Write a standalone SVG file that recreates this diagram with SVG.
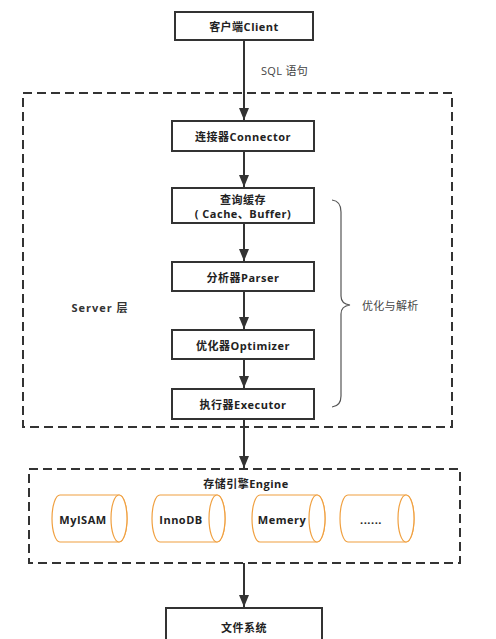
<svg xmlns="http://www.w3.org/2000/svg" width="496" height="639" viewBox="0 0 496 639">
<style>
.box{fill:#fff;stroke:#333;stroke-width:2}
.dash{fill:none;stroke:#333;stroke-width:2;stroke-dasharray:9 5}
.t{font-family:"Open Sans","Noto Sans CJK SC",sans-serif;font-size:11px;font-weight:bold;fill:#222;text-anchor:middle;dominant-baseline:central;letter-spacing:0.5px}
.n{font-family:"Open Sans","Noto Sans CJK SC",sans-serif;font-size:11px;fill:#444;dominant-baseline:central;letter-spacing:0.3px}
.cyl{fill:#fff;stroke:#F0A040;stroke-width:1.2}
.line{stroke:#333;stroke-width:2;fill:none}
</style>
<g id="server-layer">
<rect class="dash" x="23" y="93" width="429" height="334"/>
<text class="n" x="100" y="307" style="font-weight:bold;fill:#333;letter-spacing:1px" text-anchor="middle">Server 层</text>
</g>
<g id="engine-layer">
<rect class="dash" x="29" y="469" width="431" height="94"/>
<text class="t" x="246" y="483">存储引擎Engine</text>
</g>
<g id="connectors">
<line class="line" x1="244" y1="40" x2="244" y2="120"/>
<path d="M239,108 L249,108 L244,120 Z" fill="#333"/>
<line class="line" x1="244" y1="151" x2="244" y2="187"/>
<path d="M239,175 L249,175 L244,187 Z" fill="#333"/>
<line class="line" x1="244" y1="223" x2="244" y2="261"/>
<path d="M239,249 L249,249 L244,261 Z" fill="#333"/>
<line class="line" x1="244" y1="291" x2="244" y2="329"/>
<path d="M239,317 L249,317 L244,329 Z" fill="#333"/>
<line class="line" x1="244" y1="359" x2="244" y2="388"/>
<path d="M239,376 L249,376 L244,388 Z" fill="#333"/>
<line class="line" x1="244" y1="419" x2="244" y2="468"/>
<path d="M239,456 L249,456 L244,468 Z" fill="#333"/>
<line class="line" x1="244" y1="563" x2="244" y2="607"/>
<path d="M239,595 L249,595 L244,607 Z" fill="#333"/>
<text class="n" x="261" y="70">SQL 语句</text>
<path d="M332,200 Q341,201 341,212 L341,296 Q341,304 350,305 Q341,306 341,314 L341,396 Q341,406 332,407" fill="none" stroke="#555" stroke-width="1.2"/>
<text class="n" x="362" y="305">优化与解析</text>
</g>
<g id="client">
<rect class="box" x="175" y="12" width="138" height="28"/>
<text class="t" x="244" y="26">客户端Client</text>
</g>
<g id="connector">
<rect class="box" x="172" y="121" width="142" height="30"/>
<text class="t" x="243" y="136">连接器Connector</text>
</g>
<g id="cache">
<rect class="box" x="172" y="188" width="142" height="35"/>
<text class="t" x="243" y="199">查询缓存</text>
<text class="t" x="243" y="213">( Cache、Buffer)</text>
</g>
<g id="parser">
<rect class="box" x="172" y="262" width="142" height="29"/>
<text class="t" x="243" y="277">分析器Parser</text>
</g>
<g id="optimizer">
<rect class="box" x="172" y="330" width="142" height="29"/>
<text class="t" x="243" y="345">优化器Optimizer</text>
</g>
<g id="executor">
<rect class="box" x="172" y="389" width="142" height="30"/>
<text class="t" x="243" y="404">执行器Executor</text>
</g>
<g id="myisam">
<path class="cyl" d="M60,495 L119,495 A8,23.5 0 0 1 119,542 L60,542 A8,23.5 0 0 1 60,495 Z"/>
<ellipse class="cyl" cx="119" cy="518.5" rx="8" ry="23.5"/>
<text class="t" x="83" y="519">MyISAM</text>
</g>
<g id="innodb">
<path class="cyl" d="M160,495 L217,495 A8,23.5 0 0 1 217,542 L160,542 A8,23.5 0 0 1 160,495 Z"/>
<ellipse class="cyl" cx="217" cy="518.5" rx="8" ry="23.5"/>
<text class="t" x="181" y="519">InnoDB</text>
</g>
<g id="memery">
<path class="cyl" d="M260,495 L317,495 A8,23.5 0 0 1 317,542 L260,542 A8,23.5 0 0 1 260,495 Z"/>
<ellipse class="cyl" cx="317" cy="518.5" rx="8" ry="23.5"/>
<text class="t" x="282" y="519">Memery</text>
</g>
<g id="more">
<path class="cyl" d="M348,495 L406,495 A8,23.5 0 0 1 406,542 L348,542 A8,23.5 0 0 1 348,495 Z"/>
<ellipse class="cyl" cx="406" cy="518.5" rx="8" ry="23.5"/>
<text class="t" x="371" y="519">......</text>
</g>
<g id="filesystem">
<rect class="box" x="166" y="608" width="156" height="40"/>
<text class="t" x="244" y="627">文件系统</text>
</g>
</svg>
